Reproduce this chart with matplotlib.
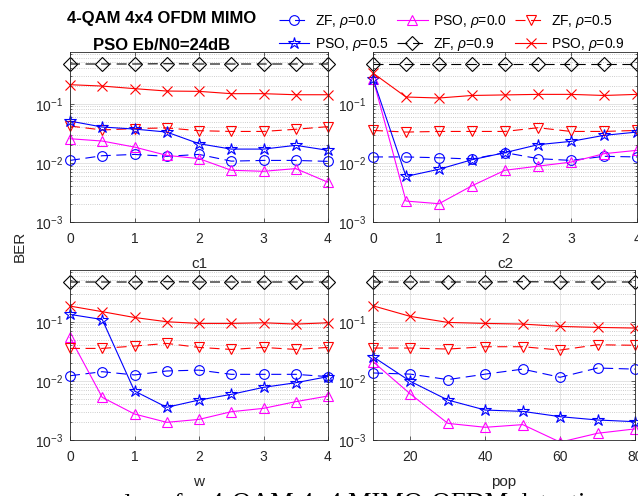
import matplotlib
matplotlib.use("Agg")
import matplotlib.pyplot as plt
from matplotlib.patches import Rectangle
from matplotlib.ticker import LogLocator, NullFormatter, NullLocator

# x values of the four parameter sweeps
x_c = [0, 0.5, 1, 1.5, 2, 2.5, 3, 3.5, 4]
x_pop = [10, 20, 30, 40, 50, 60, 70, 80]

# BER, panel c1
c1_zf_00 = [0.0110, 0.0132, 0.0139, 0.0129, 0.0139, 0.0107, 0.0110, 0.0110, 0.0106]
c1_pso_00 = [0.0256, 0.0234, 0.0185, 0.0134, 0.0118, 0.0075, 0.0072, 0.0080, 0.0047]
c1_zf_05 = [0.042, 0.036, 0.038, 0.039, 0.035, 0.034, 0.034, 0.037, 0.041]
c1_pso_05 = [0.0509, 0.0404, 0.0373, 0.0332, 0.0211, 0.0171, 0.0171, 0.0198, 0.0163]
c1_zf_09 = [0.47, 0.47, 0.47, 0.475, 0.47, 0.47, 0.47, 0.47, 0.47]
c1_pso_09 = [0.21, 0.199, 0.18, 0.164, 0.162, 0.148, 0.148, 0.142, 0.142]

# panel c2
c2_zf_00 = [0.0126, 0.0126, 0.0122, 0.0116, 0.0149, 0.0118, 0.0110, 0.0129, 0.0126]
c2_pso_00 = [0.265, 0.00226, 0.00204, 0.0041, 0.0075, 0.0088, 0.0103, 0.0143, 0.0163]
c2_zf_05 = [0.0354, 0.0332, 0.034, 0.034, 0.034, 0.0393, 0.034, 0.034, 0.0354]
c2_pso_05 = [0.265, 0.0059, 0.0078, 0.0113, 0.0149, 0.0203, 0.0231, 0.0292, 0.0332]
c2_zf_09 = [0.47, 0.47, 0.47, 0.47, 0.47, 0.47, 0.47, 0.47, 0.47]
c2_pso_09 = [0.33, 0.13, 0.125, 0.138, 0.141, 0.144, 0.144, 0.138, 0.144]

# panel w
w_zf_00 = [0.0122, 0.0143, 0.0126, 0.0147, 0.0152, 0.0129, 0.0129, 0.0129, 0.0118]
w_pso_00 = [0.0543, 0.00526, 0.00275, 0.00199, 0.00223, 0.00301, 0.00343, 0.00445, 0.00555]
w_zf_05 = [0.0354, 0.0354, 0.0388, 0.043, 0.0368, 0.034, 0.0368, 0.034, 0.0368]
w_pso_05 = [0.133, 0.109, 0.00673, 0.00357, 0.00474, 0.00591, 0.00777, 0.0093, 0.0118]
w_zf_09 = [0.47, 0.47, 0.47, 0.475, 0.47, 0.47, 0.47, 0.47, 0.47]
w_pso_09 = [0.184, 0.148, 0.118, 0.1, 0.0937, 0.0937, 0.096, 0.0913, 0.096]

# panel pop
pop_zf_00 = [0.0136, 0.013, 0.0105, 0.013, 0.0158, 0.0115, 0.0165, 0.0158]
pop_pso_00 = [0.0211, 0.00598, 0.00191, 0.00164, 0.00182, 0.00092, 0.0013, 0.00154]
pop_zf_05 = [0.0359, 0.0359, 0.0345, 0.0378, 0.0378, 0.0332, 0.0408, 0.040]
pop_pso_05 = [0.0256, 0.0098, 0.00474, 0.00321, 0.00305, 0.00248, 0.00218, 0.00204]
pop_zf_09 = [0.47, 0.47, 0.47, 0.47, 0.475, 0.47, 0.47, 0.47]
pop_pso_09 = [0.186, 0.123, 0.0974, 0.0937, 0.0913, 0.0834, 0.0802, 0.0782]

labels = [r'ZF, $\rho$=0.0', r'PSO, $\rho$=0.0', r'ZF, $\rho$=0.5',
          r'PSO, $\rho$=0.5', r'ZF, $\rho$=0.9', r'PSO, $\rho$=0.9']

W, H = 638, 496
GRAY = '#262626'

plt.rcParams['font.family'] = ['Liberation Sans', 'DejaVu Sans']
plt.rcParams['mathtext.fontset'] = 'custom'
plt.rcParams['mathtext.rm'] = 'Liberation Sans'
plt.rcParams['mathtext.it'] = 'Liberation Sans:italic'


def rect(left, top, right, bottom):
    return [left / W, 1 - bottom / H, (right - left) / W, (bottom - top) / H]


def series_styles():
    # colour, marker, marker size, dashed?
    return [('blue', 'o', 7, True), ('magenta', '^', 7.5, False),
            ('red', 'v', 7.5, True), ('blue', '*', 9, False),
            ('black', 'D', 7, True), ('red', 'x', 7, False)]


def draw_panel(ax, x, ys, xlabel, xlim, xticks):
    clip = Rectangle((-0.06, 0), 1.12, 1.2, transform=ax.transAxes)
    lines = []
    for y, (col, mk, ms, dashed), lab in zip(ys, series_styles(), labels):
        ln, = ax.plot(x, y, color=col, marker=mk, markersize=ms,
                      markerfacecolor='none', markeredgewidth=0.8,
                      linewidth=0.8, label=lab)
        if dashed:
            ln.set_dashes((9, 5))
        ln.set_clip_path(clip)
        lines.append(ln)

    ax.set_yscale('log')
    ax.set_ylim(1e-3, 0.75)
    ax.set_xlim(*xlim)
    ax.set_xticks(xticks)
    ax.yaxis.set_major_locator(LogLocator(base=10))
    ax.yaxis.set_minor_locator(LogLocator(base=10, subs=range(2, 10)))
    ax.yaxis.set_minor_formatter(NullFormatter())
    ax.xaxis.set_minor_locator(NullLocator())

    ax.grid(True, which='major', color=GRAY, alpha=0.15, linewidth=0.6)
    ax.grid(True, which='minor', axis='y', color=GRAY, alpha=0.3,
            linewidth=0.6, linestyle=':')
    ax.set_axisbelow(True)

    ax.tick_params(which='both', direction='in', top=True, right=True,
                   color=GRAY, labelcolor=GRAY, width=0.5, labelsize=10)
    ax.tick_params(which='major', length=3)
    ax.tick_params(which='minor', length=1.5)
    ax.tick_params(axis='x', pad=7)
    ax.tick_params(axis='y', pad=5)
    for sp in ax.spines.values():
        sp.set_color(GRAY)
        sp.set_linewidth(0.6)

    ax.set_xlabel(xlabel, fontsize=11, color=GRAY)
    ax.xaxis.set_label_coords(0.5, -35 / 170)
    return lines


fig = plt.figure(figsize=(W / 100, H / 100), dpi=100)

ax1 = fig.add_axes(rect(70, 52, 328, 222))
ax2 = fig.add_axes(rect(373, 52, 637, 222))
ax3 = fig.add_axes(rect(70, 270, 328, 440))
ax4 = fig.add_axes(rect(373, 270, 635, 440))

lines = draw_panel(ax1, x_c, [c1_zf_00, c1_pso_00, c1_zf_05, c1_pso_05, c1_zf_09, c1_pso_09],
                   'c1', (0, 4), [0, 1, 2, 3, 4])
draw_panel(ax2, x_c, [c2_zf_00, c2_pso_00, c2_zf_05, c2_pso_05, c2_zf_09, c2_pso_09],
           'c2', (0, 4), [0, 1, 2, 3, 4])
draw_panel(ax3, x_c, [w_zf_00, w_pso_00, w_zf_05, w_pso_05, w_zf_09, w_pso_09],
           'w', (0, 4), [0, 1, 2, 3, 4])
draw_panel(ax4, x_pop, [pop_zf_00, pop_pso_00, pop_zf_05, pop_pso_05, pop_zf_09, pop_pso_09],
           'pop', (10, 80), [20, 40, 60, 80])

# title block at top left
fig.text(162 / W, 1 - 19 / H, '4-QAM 4x4 OFDM MIMO', ha='center', va='center',
         fontsize=12, fontweight='bold')
fig.text(162 / W, 1 - 45 / H, 'PSO Eb/N0=24dB', ha='center', va='center',
         fontsize=12, fontweight='bold')

# legend: matplotlib fills columns first, so reorder to get the row layout
order = [0, 3, 1, 4, 2, 5]
fig.legend([lines[i] for i in order], [labels[i] for i in order], ncol=3,
           loc='center', bbox_to_anchor=(452 / W, 1 - 33 / H), frameon=False,
           fontsize=10, handlelength=2.2, handletextpad=0.4, columnspacing=0.6,
           labelspacing=0.45, borderpad=0)

fig.text(20 / W, 1 - 246 / H, 'BER', rotation=90, ha='center', va='center',
         fontsize=11, color=GRAY)

# cut-off caption line from the page below the figure
fig.text(204 / W, 1 - 493 / H, 'erent parameter values for', ha='right', va='top',
         fontsize=19, family='Liberation Serif')
fig.text(210 / W, 1 - 493 / H, '4-QAM 4\u00d74 MIMO-OFDM detection problem',
         ha='left', va='top', fontsize=19, family='Liberation Serif')

fig.savefig('out.png', dpi=100)
